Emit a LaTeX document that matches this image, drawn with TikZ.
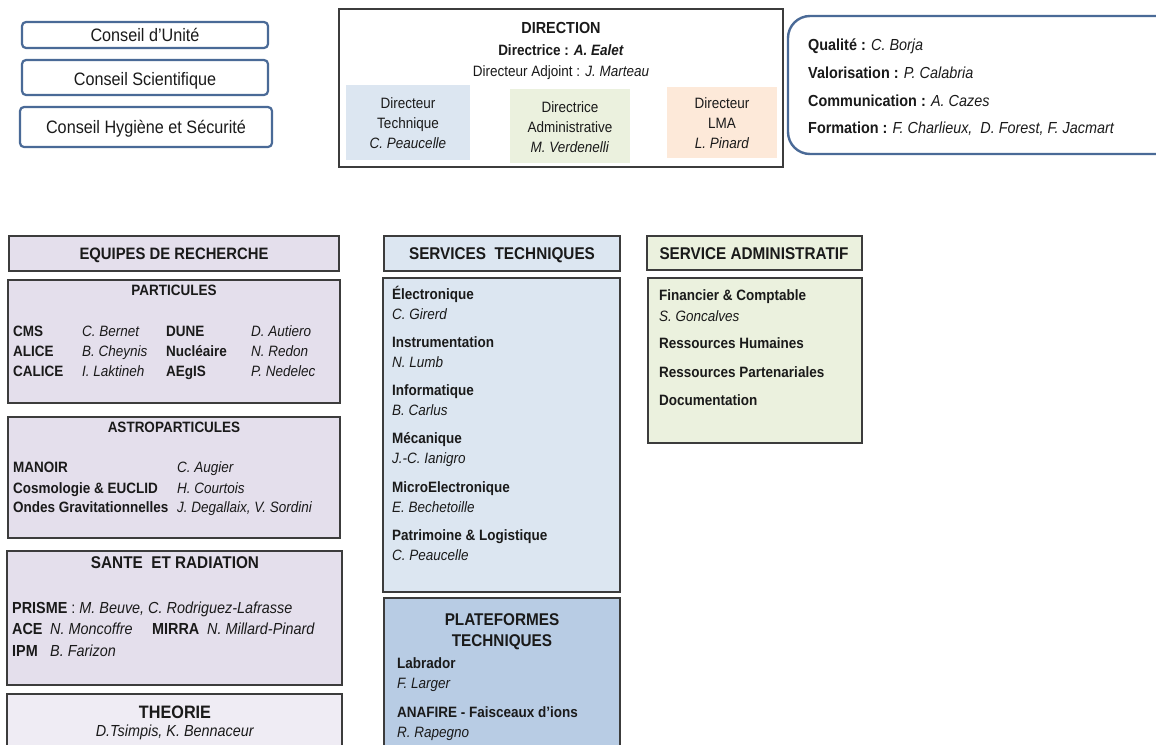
\documentclass[tikz,border=0pt]{standalone}
\usepackage{fontspec}
\setmainfont{Liberation Sans}[FakeStretch=0.9]
\definecolor{lav}{HTML}{E4DFEC}
\definecolor{lavlight}{HTML}{EFECF4}
\definecolor{ltblue}{HTML}{DCE6F1}
\definecolor{midblue}{HTML}{B8CCE4}
\definecolor{ltgreen}{HTML}{EBF1DE}
\definecolor{peach}{HTML}{FDE9D9}
\definecolor{cblue}{HTML}{4A6A97}
\definecolor{bgray}{HTML}{3C3C3C}
\definecolor{txtc}{HTML}{1A1A1A}
\begin{document}
\begin{tikzpicture}[x=1pt,y=-1pt,
  council/.style={draw=cblue,line width=2.2pt,rounded corners=4pt,fill=white},
  grpbox/.style={draw=bgray,line width=1.6pt},
  bw/.style={anchor=base west,inner sep=0pt,text=txtc},
  bc/.style={anchor=base,inner sep=0pt,text=txtc},
  f15/.style={font=\fontsize{15}{19}\selectfont},
  f16/.style={font=\fontsize{16}{20}\selectfont},
  f17/.style={font=\fontsize{17}{21}\selectfont},
  f18/.style={font=\fontsize{18}{22}\selectfont},
  subbox/.style={inner sep=0pt,align=center,text=txtc,font=\fontsize{15}{20}\selectfont}
]
\useasboundingbox (0,0) rectangle (1156,744);
\fill[white] (0,0) rectangle (1156,744);

% councils
\draw[council] (22,22) rectangle (268,48);
\draw[council] (22,60) rectangle (268,95);
\draw[council] (20,107) rectangle (272,147);
\node[bc,f18] (cu) at (145,41) {Conseil d’Unité};
\node[bc,f18] (cs) at (145,85) {Conseil Scientifique};
\node[bc,f18] (ch) at (146,133) {Conseil Hygiène et Sécurité};

% direction
\draw[draw=bgray,line width=1.4pt,fill=white] (339,9) rectangle (783,167);
\node[bc,f16] (dir) at (561,33) {\textbf{DIRECTION}};
\node[bc,f15] (dirA) at (561,55) {\textbf{Directrice : \textit{A. Ealet}}};
\node[bc,f15] (dirB) at (561,76) {Directeur Adjoint : \textit{J. Marteau}};
\fill[ltblue] (346,85) rectangle (470,160);
\fill[ltgreen] (510,89) rectangle (630,163);
\fill[peach] (667,87) rectangle (777,158);
\node[subbox] (dt) at (408,123) {Directeur\\Technique\\\textit{C. Peaucelle}};
\node[subbox] (da) at (570,127) {Directrice\\Administrative\\\textit{M. Verdenelli}};
\node[subbox] (dl) at (722,123) {Directeur\\LMA\\\textit{L. Pinard}};

% quality box
\draw[draw=cblue,line width=2.4pt,rounded corners=22pt] (788,16) rectangle (1185,154);
\node[bw,f16] (q1) at (808,50) {\textbf{Qualité :} \textit{C. Borja}};
\node[bw,f16] (q2) at (808,78) {\textbf{Valorisation :} \textit{P. Calabria}};
\node[bw,f16] (q3) at (808,106) {\textbf{Communication :} \textit{A. Cazes}};
\node[bw,f16] (q4) at (808,133) {\textbf{Formation :} \textit{F. Charlieux, \ D. Forest, F. Jacmart}};

% equipes de recherche
\draw[grpbox,fill=lav] (9,236) rectangle (339,271);
\node[bc,font=\fontsize{16.5}{20}\selectfont] (eq) at (174,259) {\textbf{EQUIPES DE RECHERCHE}};

\draw[grpbox,fill=lav] (8,280) rectangle (340,403);
\node[bc,f15] (pt) at (174,295) {\textbf{PARTICULES}};
\node[bw,f15] (p1) at (13,336) {\textbf{CMS}};
\node[bw,f15] (p2) at (13,356) {\textbf{ALICE}};
\node[bw,f15] (p3) at (13,376) {\textbf{CALICE}};
\node[bw,f15] (p4) at (82,336) {\textit{C. Bernet}};
\node[bw,f15] (p5) at (82,356) {\textit{B. Cheynis}};
\node[bw,f15] (p6) at (82,376) {\textit{I. Laktineh}};
\node[bw,f15] (p7) at (166,336) {\textbf{DUNE}};
\node[bw,f15] (p8) at (166,356) {\textbf{Nucléaire}};
\node[bw,f15] (p9) at (166,376) {\textbf{AEgIS}};
\node[bw,f15] (p10) at (251,336) {\textit{D. Autiero}};
\node[bw,f15] (p11) at (251,356) {\textit{N. Redon}};
\node[bw,f15] (p12) at (251,376) {\textit{P. Nedelec}};

\draw[grpbox,fill=lav] (8,417) rectangle (340,538);
\node[bc,f15] (at) at (174,432) {\textbf{ASTROPARTICULES}};
\node[bw,f15] (a1) at (13,472) {\textbf{MANOIR}};
\node[bw,f15] (a2) at (13,493) {\textbf{Cosmologie \& EUCLID}};
\node[bw,f15] (a3) at (13,512) {\textbf{Ondes Gravitationnelles}};
\node[bw,f15] (a4) at (177,472) {\textit{C. Augier}};
\node[bw,f15] (a5) at (177,493) {\textit{H. Courtois}};
\node[bw,f15] (a6) at (177,512) {\textit{J. Degallaix, V. Sordini}};

\draw[grpbox,fill=lav] (7,551) rectangle (342,685);
\node[bc,f17] (sr) at (175,568) {\textbf{SANTE \ ET RADIATION}};
\node[bw,f16] (s1) at (12,613) {\textbf{PRISME} : \textit{M. Beuve, C. Rodriguez-Lafrasse}};
\node[bw,f16] (s2) at (12,634) {\textbf{ACE}};
\node[bw,f16] (s3) at (50,634) {\textit{N. Moncoffre}};
\node[bw,f16] (s4) at (152,634) {\textbf{MIRRA}};
\node[bw,f16] (s5) at (207,634) {\textit{N. Millard-Pinard}};
\node[bw,f16] (s6) at (12,656) {\textbf{IPM}};
\node[bw,f16] (s7) at (50,656) {\textit{B. Farizon}};

\draw[grpbox,fill=lavlight] (7,694) rectangle (342,760);
\node[bc,f18] (th) at (175,718) {\textbf{THEORIE}};
\node[bc,f16] (th1) at (175,736) {\textit{D.Tsimpis, K. Bennaceur}};

% services techniques
\draw[grpbox,fill=ltblue] (384,236) rectangle (620,271);
\node[bc,f17] (st) at (502,259) {\textbf{SERVICES \ TECHNIQUES}};
\draw[grpbox,fill=ltblue] (383,278) rectangle (620,592);
\node[bw,f15] (t1) at (392,299) {\textbf{Électronique}};
\node[bw,f15] (t2) at (392,319) {\textit{C. Girerd}};
\node[bw,f15] (t3) at (392,347) {\textbf{Instrumentation}};
\node[bw,f15] (t4) at (392,367) {\textit{N. Lumb}};
\node[bw,f15] (t5) at (392,395) {\textbf{Informatique}};
\node[bw,f15] (t6) at (392,415) {\textit{B. Carlus}};
\node[bw,f15] (t7) at (392,443) {\textbf{Mécanique}};
\node[bw,f15] (t8) at (392,463) {\textit{J.-C. Ianigro}};
\node[bw,f15] (t9) at (392,492) {\textbf{MicroElectronique}};
\node[bw,f15] (t10) at (392,512) {\textit{E. Bechetoille}};
\node[bw,f15] (t11) at (392,540) {\textbf{Patrimoine \& Logistique}};
\node[bw,f15] (t12) at (392,560) {\textit{C. Peaucelle}};

\draw[grpbox,fill=midblue] (384,598) rectangle (620,760);
\node[bc,f17] (pl1) at (502,625) {\textbf{PLATEFORMES}};
\node[bc,f17] (pl2) at (502,646) {\textbf{TECHNIQUES}};
\node[bw,f15] (l1) at (397,668) {\textbf{Labrador}};
\node[bw,f15] (l2) at (397,688) {\textit{F. Larger}};
\node[bw,f15] (l3) at (397,717) {\textbf{ANAFIRE - Faisceaux d’ions}};
\node[bw,f15] (l4) at (397,737) {\textit{R. Rapegno}};

% service administratif
\draw[grpbox,fill=ltgreen] (647,236) rectangle (862,270);
\node[bc,f17] (sa) at (754,259) {\textbf{SERVICE ADMINISTRATIF}};
\draw[grpbox,fill=ltgreen] (648,278) rectangle (862,443);
\node[bw,f15] (m1) at (659,300) {\textbf{Financier \& Comptable}};
\node[bw,f15] (m2) at (659,321) {\textit{S. Goncalves}};
\node[bw,f15] (m3) at (659,348) {\textbf{Ressources Humaines}};
\node[bw,f15] (m4) at (659,377) {\textbf{Ressources Partenariales}};
\node[bw,f15] (m5) at (659,405) {\textbf{Documentation}};
\end{tikzpicture}
\end{document}
